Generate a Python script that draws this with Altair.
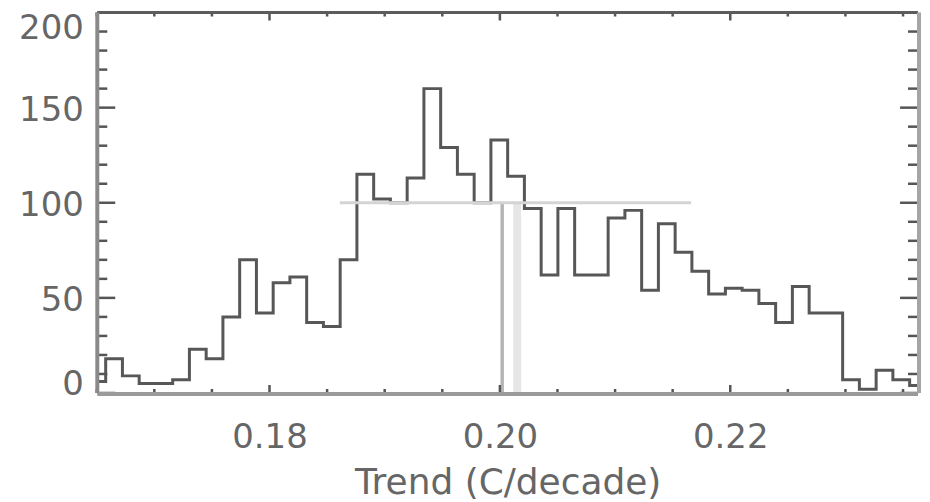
import altair as alt
import pandas as pd
import numpy as np

# ---- data ----
counts = [6, 18, 9, 5, 5, 7, 23, 18, 40, 70, 42, 58, 61, 37, 35, 70, 115, 102, 100, 113,
          160, 129, 115, 100, 133, 114, 97, 62, 97, 62, 62, 92, 96, 54, 89, 74, 64, 52, 55, 54,
          47, 37, 56, 42, 42, 7, 2, 12, 7, 4]
first_center = 0.16505
last_center = 0.2363
x_major = [0.18, 0.20, 0.22]
x_minor = [0.165, 0.170, 0.175, 0.185, 0.190, 0.195, 0.205, 0.210, 0.215, 0.225, 0.230, 0.235]
y_major = [0, 50, 100, 150, 200]
y_minor = [10, 20, 30, 40, 60, 70, 80, 90, 110, 120, 130, 140, 160, 170, 180, 190]
range_lo, range_hi, range_level = 0.1861, 0.2166, 100
vline_a = 0.2002
vline_b = 0.2015

W, H = 822.5, 381.3
FONT = "DejaVu Sans"
TXT = "#666666"

centers = np.linspace(first_center, last_center, len(counts))
hist_df = pd.DataFrame({"x": centers, "y": counts})

xscale = alt.Scale(domain=[first_center, last_center], nice=False, zero=False)
yscale = alt.Scale(domain=[0, 200], nice=False, zero=False)

xaxis = alt.Axis(values=x_major, format=".2f", ticks=False, domain=False, grid=False,
                 labelFont=FONT, labelFontSize=34, labelColor=TXT, labelPadding=28,
                 title="Trend (C/decade)", titleFont=FONT, titleFontSize=36,
                 titleFontWeight="normal", titleColor=TXT, titleBaseline="alphabetic",
                 titleAlign="center", titleX=W / 2, titleY=101)
yaxis = alt.Axis(values=y_major, ticks=False, domain=False, grid=False,
                 labelFont=FONT, labelFontSize=34, labelColor=TXT, labelPadding=14,
                 labelOffset=alt.ExprRef(expr="datum.value == 200 ? 16 : (datum.value == 0 ? -8 : 3)"),
                 title=None)

X = alt.X("x:Q", scale=xscale, axis=xaxis)
Y = alt.Y("y:Q", scale=yscale, axis=yaxis)

hist = alt.Chart(hist_df).mark_line(interpolate="step", color="#575757", strokeWidth=3).encode(x=X, y=Y)

hline = alt.Chart(pd.DataFrame({"x": [range_lo], "x2": [range_hi], "y": [range_level]})).mark_rule(
    color="#d4d4d4", strokeWidth=3).encode(x=X, x2="x2:Q", y=Y)

vl_df = pd.DataFrame({"x": [vline_b], "y": [0], "y2": [range_level]})
vb = alt.Chart(vl_df).mark_rule(color="#e6e6e6", strokeWidth=8).encode(x=X, y=Y, y2="y2:Q")
va_df = pd.DataFrame({"x": [vline_a], "y": [0], "y2": [range_level]})
va = alt.Chart(va_df).mark_rule(color="#b5b5b5", strokeWidth=3.5).encode(x=X, y=Y, y2="y2:Q")

TK = "#555555"
xmaj = pd.DataFrame({"x": x_major})
xmin = pd.DataFrame({"x": x_minor})
ymaj = pd.DataFrame({"y": y_major})
ymin = pd.DataFrame({"y": y_minor})

def xticks(df, ln):
    b = alt.Chart(df).mark_rule(color=TK, strokeWidth=2.5).encode(x=X, y=alt.value(H), y2=alt.value(H - ln))
    t = alt.Chart(df).mark_rule(color=TK, strokeWidth=2.5).encode(x=X, y=alt.value(0), y2=alt.value(ln))
    return [b, t]

def yticks(df, ln):
    l = alt.Chart(df).mark_rule(color=TK, strokeWidth=2.5).encode(y=Y, x=alt.value(0), x2=alt.value(ln))
    r = alt.Chart(df).mark_rule(color=TK, strokeWidth=2.5).encode(y=Y, x=alt.value(W - ln), x2=alt.value(W))
    return [l, r]

one = pd.DataFrame({"a": [0]})
frame = [
    alt.Chart(one).mark_rule(color="#5c5c5c", strokeWidth=3).encode(x=alt.value(0), x2=alt.value(W), y=alt.value(0)),
    alt.Chart(one).mark_rule(color="#9a9a9a", strokeWidth=4).encode(x=alt.value(0), x2=alt.value(W), y=alt.value(H + 1)),
    alt.Chart(one).mark_rule(color="#8a8a8a", strokeWidth=4).encode(x=alt.value(0), y=alt.value(0), y2=alt.value(H)),
    alt.Chart(one).mark_rule(color="#a5a5a5", strokeWidth=4).encode(x=alt.value(W + 1), y=alt.value(0), y2=alt.value(H)),
]

layers = [hist, vb, va, hline] + xticks(xmaj, 8) + xticks(xmin, 4) + yticks(ymaj, 18) + yticks(ymin, 10) + frame

chart = alt.layer(*layers).properties(
    width=W, height=H,
    autosize=alt.AutoSizeParams(type="none"),
    padding={"left": 89.5, "top": 4, "right": 4, "bottom": 109},
).configure_view(stroke=None).configure(background="white")

chart.save("out.html", embed_options={"renderer": "svg", "actions": False})
